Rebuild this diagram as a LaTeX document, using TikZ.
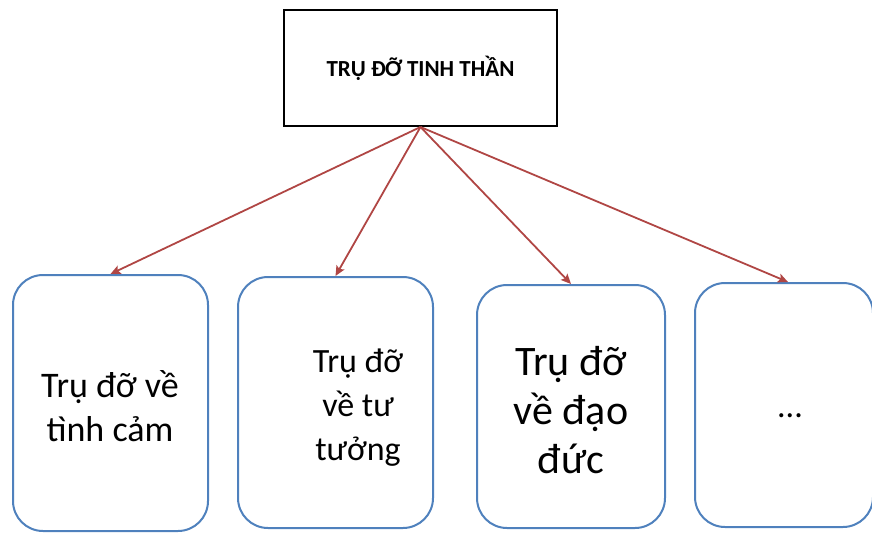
\documentclass[tikz,border=0pt]{standalone}
\usepackage{fontspec}
\setmainfont{Carlito}
\usetikzlibrary{positioning,arrows.meta}
\definecolor{pillarblue}{RGB}{79,129,189}
\definecolor{arrowred}{RGB}{176,70,68}

\begin{document}
\begin{tikzpicture}[x=1pt, y=-1pt,
        titlebox/.style={rectangle, draw=black, line width=2pt, fill=white, minimum width=273pt, minimum height=116pt, font=\fontsize{23}{27}\selectfont\bfseries},
        pillar/.style={rectangle, rounded corners=30pt, draw=pillarblue, line width=2pt, fill=white},
        pillartext/.style={align=center, font=\fontsize{34}{44}\selectfont},
        link/.style={draw=arrowred, line width=1.8pt, -{Stealth[length=10pt, width=9pt, inset=2pt]}}
    ]
        \useasboundingbox (0,0) rectangle (872,533);

        % Top box
        \node[titlebox] (top) at (420.5, 68) {TRỤ ĐỠ TINH THẦN};

        % Pillars
        \node[pillar, minimum width=195pt, minimum height=256pt] (p1) at (110.5, 403) {};
        \node[pillar, minimum width=195pt, minimum height=251pt] (p2) at (335.5, 402.5) {};
        \node[pillar, minimum width=188pt, minimum height=243pt] (p3) at (571, 406.5) {};
        \node[pillar, minimum width=178pt, minimum height=244pt] (p4) at (784, 405) {};

        % Texts
        \node[pillartext, font=\fontsize{36}{44}\selectfont] (t1) at (110, 406) {Trụ đỡ về\\tình cảm};
        \node[pillartext] (t2) at (358, 408) {Trụ đỡ\\về tư\\tưởng};
        \node[pillartext, font=\fontsize{42}{49}\selectfont] (t3) at (571, 410) {Trụ đỡ\\về đạo\\đức};
        \node[pillartext] (t4) at (790, 416) {...};

        % Connections
        \draw[link] (top.south) -- (p1.north);
        \draw[link] (top.south) -- (p2.north);
        \draw[link] (top.south) -- (p3.north);
        \draw[link] (top.south) -- ([xshift=4pt]p4.north);

    \end{tikzpicture}
\end{document}
